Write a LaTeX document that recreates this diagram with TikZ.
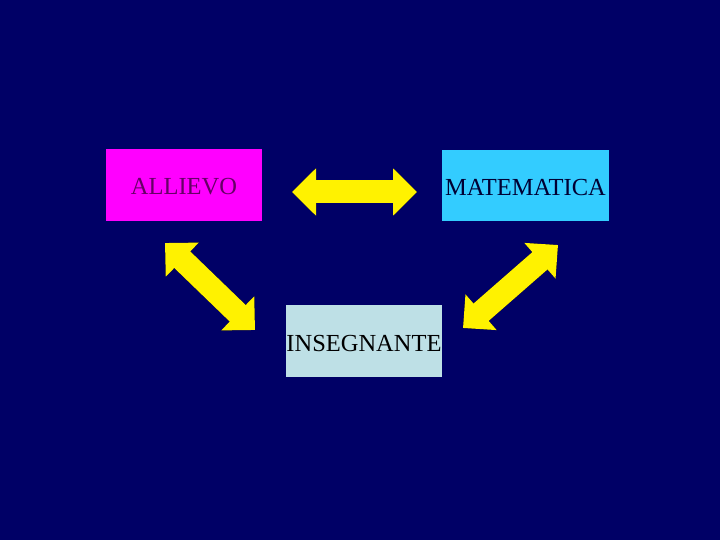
\documentclass[tikz,border=0pt]{standalone}
\usepackage{fontspec}
\setmainfont{Liberation Serif}
\usetikzlibrary{arrows.meta}
\definecolor{navy}{RGB}{0,0,102}
\definecolor{boxmag}{RGB}{255,0,255}
\definecolor{boxcyan}{RGB}{51,204,255}
\definecolor{boxpale}{RGB}{190,224,230}
\definecolor{txtpurple}{RGB}{102,0,102}
\definecolor{txtnavy}{RGB}{0,0,51}
\tikzset{box/.style={inner sep=0pt, outer sep=0pt, text height=20pt, text depth=0pt, font=\fontsize{24.5}{29}\selectfont},
bigarrow/.style={line width=23pt, color=yellow, {Triangle[length=24pt,width=46pt]}-{Triangle[length=24pt,width=46pt]}},
%black edge under each arrow
arrowshadow/.style={bigarrow, color=black, shift={(1,1)}}}

\begin{document}
\begin{tikzpicture}[x=1pt,y=-1pt]

\fill [navy] (0,0) rectangle (720,540);
\useasboundingbox (0,0) rectangle (720,540);

% boxes
\node[box, fill=boxmag, text=txtpurple, minimum width=156pt, minimum height=72pt] (allievo) at (184,185) {ALLIEVO};
\node[box, fill=boxcyan, text=txtnavy, minimum width=167pt, minimum height=71pt] (matematica) at (525.5,185.5) {MATEMATICA};
\node[box, fill=boxpale, text=black, minimum width=156pt, minimum height=72pt] (insegnante) at (364,341) {INSEGNANTE};

% arrow ends
\coordinate (hl) at (292,192);
\coordinate (hr) at (417,192);
\coordinate (ltop) at (165,243);
\coordinate (lbot) at (255,330);
\coordinate (rtop) at (558,245);
\coordinate (rbot) at (463,328);

% ALLIEVO - MATEMATICA
\draw[arrowshadow] (hl) -- (hr);
\draw[bigarrow] (hl) -- (hr);
% ALLIEVO - INSEGNANTE
\draw[arrowshadow] (ltop) -- (lbot);
\draw[bigarrow] (ltop) -- (lbot);
% MATEMATICA - INSEGNANTE
\draw[arrowshadow] (rtop) -- (rbot);
\draw[bigarrow] (rtop) -- (rbot);

\end{tikzpicture}
\end{document}
